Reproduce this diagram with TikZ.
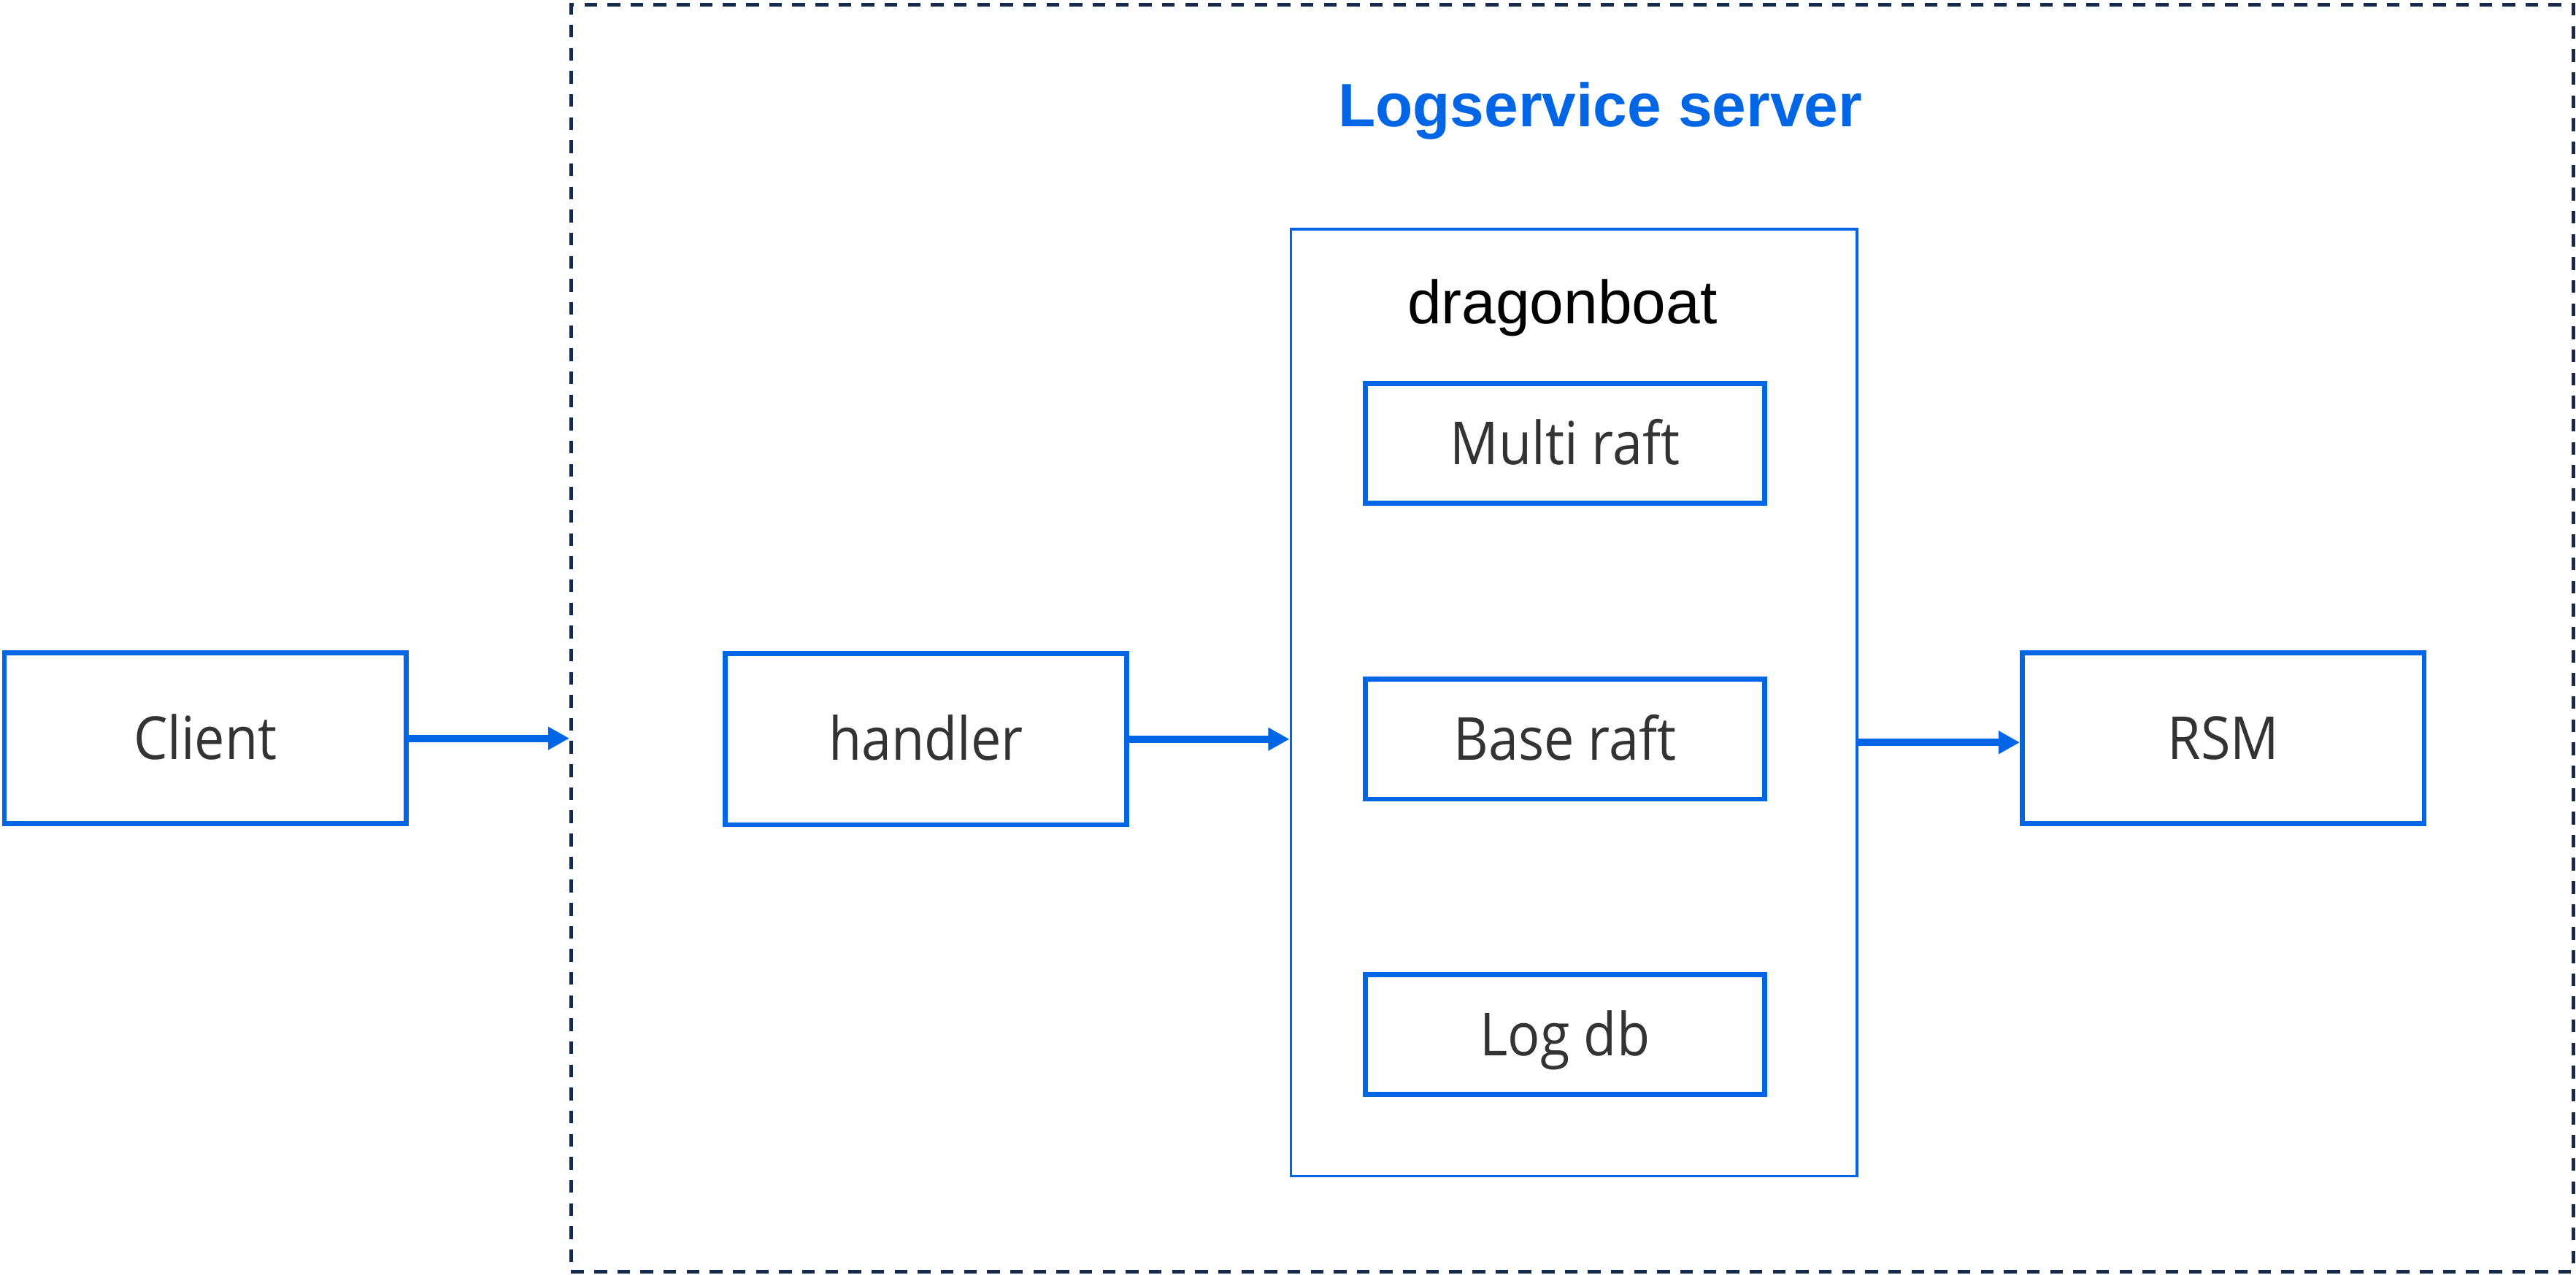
\documentclass[tikz,border=0pt]{standalone}
\usepackage{fontspec}
\setmainfont{Liberation Sans}
\newfontfamily\boxfont[FakeStretch=0.906]{Open Sans}
\usetikzlibrary{arrows.meta}
\definecolor{boxblue}{RGB}{0,102,230}
\definecolor{navy}{RGB}{22,42,78}
\definecolor{txtgray}{RGB}{51,51,51}
\tikzset{
  blockbox/.style={draw=boxblue, line width=0.85pt, minimum width=2.445cm, minimum height=1.04cm,
    inner sep=0pt, font=\boxfont\fontsize{10.28pt}{12pt}\selectfont, text=txtgray,
    text height=7.34pt, text depth=0pt},
  innerbox/.style={blockbox, minimum width=2.43cm, minimum height=0.73cm},
  flow/.style={draw=boxblue, line width=1.25pt, -{Triangle[length=3.7pt,width=3.8pt]}},
}
\begin{document}
\begin{tikzpicture}[x=0.01cm,y=-0.01cm]
\useasboundingbox (0,0) rectangle (1568,776);
% outer dashed server frame
\node[draw=navy, line width=0.6pt, dash pattern=on 2.2pt off 1.8pt,
      minimum width=12.18cm, minimum height=7.71cm, inner sep=0pt] (server) at (957,388.5) {};
\node[anchor=base, font=\bfseries\fontsize{10.6pt}{12pt}\selectfont, text=boxblue] (title) at (974,77.3) {Logservice server};
% dragonboat frame
\node[draw=boxblue, line width=0.45pt, minimum width=3.444cm, minimum height=5.76cm, inner sep=0pt] (dragon) at (958,427.8) {};
\node[anchor=base, font=\fontsize{10.6pt}{12pt}\selectfont, text=black] (dlabel) at (951,197) {dragonboat};
% inner boxes
\node[innerbox] (multi) at (952.6,270) {Multi raft};
\node[innerbox] (base) at (952.6,450) {Base raft};
\node[innerbox] (logdb) at (952.6,629.8) {Log db};
% outer boxes
\node[blockbox] (client) at (125,449.5) {Client};
\node[blockbox] (handler) at (563.6,450) {handler};
\node[blockbox] (rsm) at (1353.3,449.5) {RSM};
% connectors
\coordinate (rsmin) at ([yshift=-0.025cm]rsm.west);
\draw[flow] (client.east) -- (client.east -| server.west);
\draw[flow] (handler.east) -- (handler.east -| dragon.west);
\draw[flow] (rsmin -| dragon.east) -- (rsmin);
\end{tikzpicture}
\end{document}
